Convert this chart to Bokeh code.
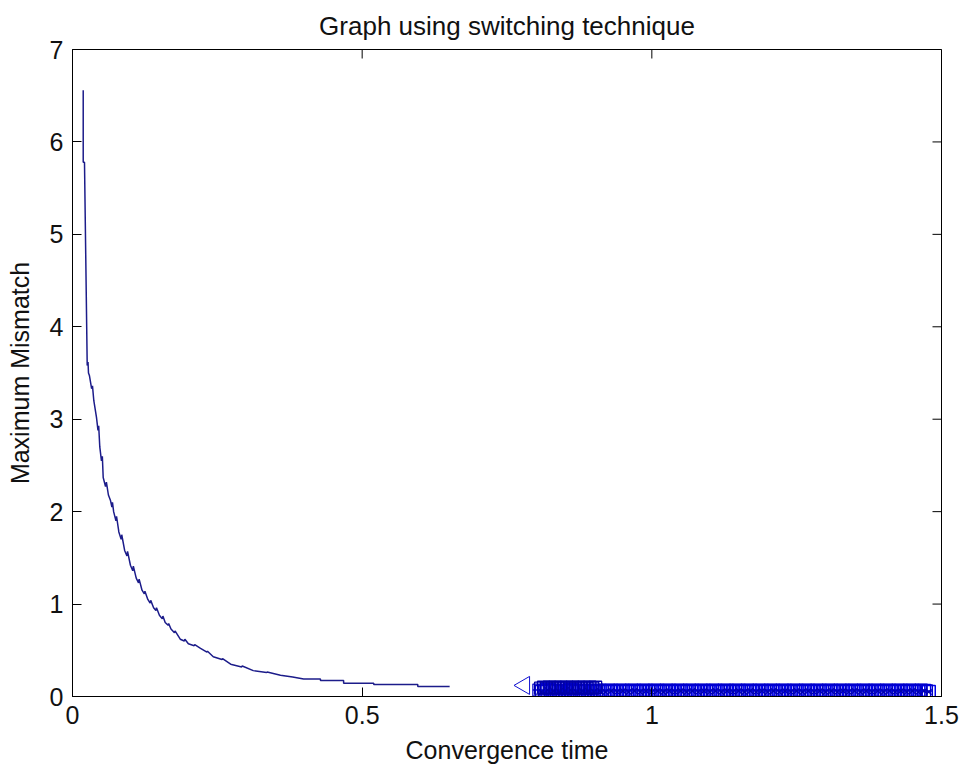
from bokeh.plotting import figure
from bokeh.models import Range1d, FixedTicker
from bokeh.embed import file_html
from bokeh.resources import INLINE
import math

# ---------------- data ----------------
title_text = "Graph using switching technique"
x_label = "Convergence time"
y_label = "Maximum Mismatch"
x_ticks = [0, 0.5, 1, 1.5]
x_tick_labels = ["0", "0.5", "1", "1.5"]
y_ticks = [0, 1, 2, 3, 4, 5, 6, 7]
y_tick_labels = ["0", "1", "2", "3", "4", "5", "6", "7"]
x_max = 1.5
y_max = 7

# decaying curve (with its small saw-teeth), then a staircase tail
curve_x = [0.0185, 0.0185, 0.0207, 0.0254, 0.0268, 0.0276, 0.0293, 0.0330, 0.0345,
           0.0368, 0.0414, 0.0440, 0.0452, 0.0471, 0.0500, 0.0515, 0.0530, 0.0570,
           0.0585, 0.0620, 0.0656, 0.0680, 0.0690, 0.0710, 0.0750, 0.0760, 0.0800,
           0.0840, 0.0850, 0.0900, 0.0940, 0.0950, 0.1000, 0.1040, 0.1050, 0.1100,
           0.1140, 0.1150, 0.1200, 0.1240, 0.1250, 0.1300, 0.1340, 0.1350, 0.1400,
           0.1440, 0.1450, 0.1500, 0.1550, 0.1560, 0.1600, 0.1650, 0.1660, 0.1700,
           0.1760, 0.1770, 0.1860, 0.1930, 0.1940, 0.2000, 0.2100, 0.2110, 0.2210,
           0.2320, 0.2330, 0.2430, 0.2580, 0.2590, 0.2730, 0.2920, 0.2930, 0.3120,
           0.3350, 0.3360, 0.3590, 0.3800, 0.3990, 0.4280, 0.4280, 0.4680, 0.4680,
           0.5200, 0.5200, 0.5960, 0.5960, 0.6510]
curve_y = [6.56, 5.78, 5.78, 3.58, 3.62, 3.50, 3.47, 3.33, 3.36,
           3.20, 3.02, 2.88, 2.93, 2.70, 2.55, 2.60, 2.37, 2.27,
           2.32, 2.18, 2.12, 2.05, 2.10, 2.00, 1.90, 1.95, 1.78,
           1.70, 1.75, 1.58, 1.52, 1.57, 1.42, 1.36, 1.41, 1.28,
           1.23, 1.27, 1.15, 1.11, 1.14, 1.05, 1.01, 1.04, 0.96,
           0.93, 0.96, 0.88, 0.84, 0.87, 0.80, 0.77, 0.79, 0.73,
           0.69, 0.71, 0.62, 0.60, 0.62, 0.57, 0.55, 0.56, 0.52,
           0.48, 0.49, 0.43, 0.40, 0.41, 0.35, 0.32, 0.33, 0.28,
           0.26, 0.265, 0.23, 0.21, 0.19, 0.19, 0.173, 0.173, 0.144,
           0.144, 0.130, 0.130, 0.108, 0.108]

# first point of the switched phase
start_x = [0.780]
start_y = [0.12]

# dense markers of the switched phase
sq_x = [0.81, 0.82, 0.83, 0.84, 0.85, 0.86, 0.87, 0.88, 0.89,
        0.90, 0.91, 0.92, 0.93, 0.94, 0.95, 0.96, 0.97, 0.98, 0.99,
        1.00, 1.01, 1.02, 1.03, 1.04, 1.05, 1.06, 1.07, 1.08, 1.09,
        1.10, 1.11, 1.12, 1.13, 1.14, 1.15, 1.16, 1.17, 1.18, 1.19,
        1.20, 1.21, 1.22, 1.23, 1.24, 1.25, 1.26, 1.27, 1.28, 1.29,
        1.30, 1.31, 1.32, 1.33, 1.34, 1.35, 1.36, 1.37, 1.38, 1.39,
        1.40, 1.41, 1.42, 1.43, 1.44, 1.45, 1.46, 1.47, 1.478]
sq_y = [0.05, 0.07, 0.06, 0.05, 0.06, 0.07, 0.05, 0.06, 0.06,
        0.05, 0.06, 0.05, 0.06, 0.05, 0.06, 0.05, 0.06, 0.05, 0.06,
        0.05, 0.06, 0.05, 0.06, 0.05, 0.06, 0.05, 0.06, 0.05, 0.06,
        0.05, 0.06, 0.05, 0.06, 0.05, 0.06, 0.05, 0.06, 0.05, 0.06,
        0.05, 0.06, 0.05, 0.06, 0.05, 0.06, 0.05, 0.06, 0.05, 0.06,
        0.05, 0.06, 0.05, 0.06, 0.05, 0.06, 0.05, 0.06, 0.05, 0.06,
        0.05, 0.06, 0.05, 0.06, 0.05, 0.06, 0.05, 0.06, 0.05]
plus_x = [0.805, 0.815, 0.825, 0.835, 0.845, 0.855, 0.865, 0.875, 0.885, 0.895,
          0.905, 0.915, 0.925, 0.935, 0.945, 0.955, 0.965, 0.975, 0.985, 0.995,
          1.005, 1.015, 1.025, 1.035, 1.045, 1.055, 1.065, 1.075, 1.085, 1.095,
          1.105, 1.115, 1.125, 1.135, 1.145, 1.155, 1.165, 1.175, 1.185, 1.195,
          1.205, 1.215, 1.225, 1.235, 1.245, 1.255, 1.265, 1.275, 1.285, 1.295,
          1.305, 1.315, 1.325, 1.335, 1.345, 1.355, 1.365, 1.375, 1.385, 1.395,
          1.405, 1.415, 1.425, 1.435, 1.445, 1.455, 1.465, 1.474]
plus_y = [0.07, 0.06, 0.07, 0.06, 0.07, 0.06, 0.07, 0.06, 0.07, 0.06,
          0.07, 0.06, 0.07, 0.06, 0.07, 0.06, 0.07, 0.06, 0.07, 0.06,
          0.07, 0.06, 0.07, 0.06, 0.07, 0.06, 0.07, 0.06, 0.07, 0.06,
          0.07, 0.06, 0.07, 0.06, 0.07, 0.06, 0.07, 0.06, 0.07, 0.06,
          0.07, 0.06, 0.07, 0.06, 0.07, 0.06, 0.07, 0.06, 0.07, 0.06,
          0.07, 0.06, 0.07, 0.06, 0.07, 0.06, 0.07, 0.06, 0.07, 0.06,
          0.07, 0.06, 0.07, 0.06, 0.07, 0.06, 0.07, 0.06]
extra_x = [0.808, 0.813, 0.818, 0.823, 0.828, 0.833, 0.838, 0.843, 0.848, 0.853,
           0.858, 0.863, 0.868, 0.873, 0.878, 0.883, 0.888, 0.893, 0.898, 0.903]
extra_y = [0.09, 0.10, 0.09, 0.10, 0.09, 0.10, 0.09, 0.10, 0.09, 0.10,
           0.09, 0.10, 0.09, 0.10, 0.09, 0.10, 0.09, 0.10, 0.09, 0.10]

# ---------------- figure ----------------
FONT = "Liberation Sans"
TXT = "#111111"
p = figure(frame_width=869, frame_height=647,
           x_range=Range1d(0, x_max), y_range=Range1d(0, y_max),
           output_backend="svg", toolbar_location=None,
           min_border_left=72, min_border_top=49, min_border_right=18,
           min_border_bottom=70)
p.background_fill_color = "white"
p.border_fill_color = "white"
p.outline_line_color = "black"
p.outline_line_width = 1
p.xgrid.visible = False
p.ygrid.visible = False

p.title.text = title_text
p.title.align = "center"
p.title.text_font = FONT
p.title.text_font_size = "26px"
p.title.text_font_style = "normal"
p.title.text_color = TXT
p.title.standoff = 17


def style_axis(ax, ticks, labels):
    ax.ticker = FixedTicker(ticks=ticks)
    ax.major_label_overrides = {t: l for t, l in zip(ticks, labels)}
    ax.major_tick_in = 9
    ax.major_tick_out = 0
    ax.minor_tick_in = 0
    ax.minor_tick_out = 0
    ax.axis_line_color = "black"
    ax.major_tick_line_color = "black"
    ax.major_label_text_font = FONT
    ax.major_label_text_color = TXT
    ax.major_label_text_font_size = "25px"
    ax.major_label_standoff = 9
    ax.axis_label_text_font = FONT
    ax.axis_label_text_font_size = "25px"
    ax.axis_label_text_font_style = "normal"
    ax.axis_label_text_color = TXT


style_axis(p.xaxis[0], x_ticks, x_tick_labels)
style_axis(p.yaxis[0], y_ticks, y_tick_labels)
p.xaxis[0].axis_label = x_label
p.yaxis[0].axis_label = y_label
p.xaxis[0].axis_label_standoff = 9
p.yaxis[0].axis_label_standoff = 13

# inward ticks on the top and right edges of the box (half of each dash is clipped)
p.scatter([x_max] * len(y_ticks), y_ticks, marker="dash", size=18,
          line_color="black", line_width=1)
p.scatter(x_ticks, [y_max] * len(x_ticks), marker="dash", angle=math.pi / 2,
          size=18, line_color="black", line_width=1)

# ---------------- glyphs ----------------
p.line(curve_x, curve_y, line_color="#1c1c8a", line_width=1.5)

p.scatter(start_x, start_y, marker="triangle", angle=math.pi / 2, size=18,
          fill_color=None, line_color="#1010d0", line_width=1)

p.scatter(sq_x, sq_y, marker="square", size=13, fill_color=None,
          line_color="#0000e8", line_width=1.5)
p.scatter(plus_x, plus_y, marker="square", size=12, fill_color=None,
          line_color="#0000c8", line_width=1.2)
p.scatter(plus_x, plus_y, marker="cross", size=12, line_color="#0000d0", line_width=1.4)
p.scatter(sq_x, sq_y, marker="x", size=8, line_color="#0000b0", line_width=1.2)
p.scatter(extra_x, extra_y, marker="square", size=12, fill_color=None,
          line_color="#0000a8", line_width=1.3)

open("out.html", "w").write(file_html(p, INLINE))
